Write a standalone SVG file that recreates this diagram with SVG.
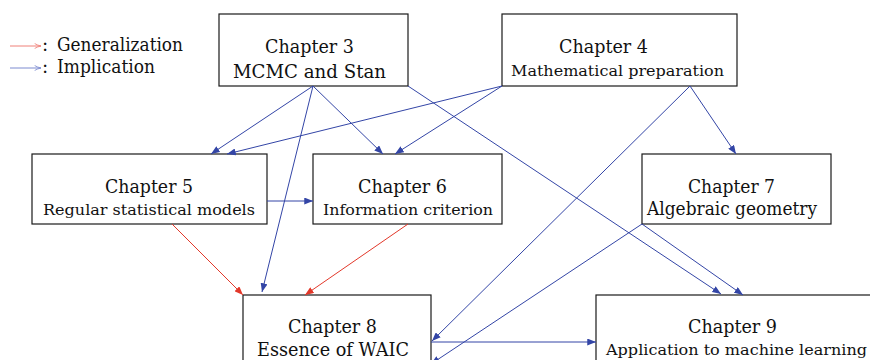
<svg xmlns="http://www.w3.org/2000/svg" width="870" height="360" viewBox="0 0 870 360">
<defs>
<style>
.box{fill:#fff;stroke:#1a1a1a;stroke-width:1.2}
text{font-family:"DejaVu Serif",serif;fill:#111}
.big{font-size:18.5px}
.sm{font-size:15.5px}
.b{stroke:#3345a6;stroke-width:1;fill:none;marker-end:url(#ab)}
.r{stroke:#e2382a;stroke-width:1;fill:none;marker-end:url(#ar)}
</style>
<marker id="ab" viewBox="0 0 10 8" refX="10" refY="4" markerWidth="9" markerHeight="7" markerUnits="userSpaceOnUse" orient="auto"><path d="M0,0 L10,4 L0,8 z" fill="#3345a6"/></marker>
<marker id="ar" viewBox="0 0 10 8" refX="10" refY="4" markerWidth="9" markerHeight="7" markerUnits="userSpaceOnUse" orient="auto"><path d="M0,0 L10,4 L0,8 z" fill="#e2382a"/></marker>
<marker id="lb" viewBox="0 0 10 8" refX="10" refY="4" markerWidth="7" markerHeight="6" markerUnits="userSpaceOnUse" orient="auto"><path d="M1,0.5 Q5,3 10,4 Q5,5 1,7.5" fill="none" stroke="#7d8bd0" stroke-width="1.2"/></marker>
<marker id="lr" viewBox="0 0 10 8" refX="10" refY="4" markerWidth="7" markerHeight="6" markerUnits="userSpaceOnUse" orient="auto"><path d="M1,0.5 Q5,3 10,4 Q5,5 1,7.5" fill="none" stroke="#ef8078" stroke-width="1.2"/></marker>
</defs>

<g id="legend">
<line x1="10" y1="46" x2="41" y2="46" stroke="#ef8078" stroke-width="1" marker-end="url(#lr)"/>
<text class="big" x="42" y="51">:</text>
<text class="big" x="57" y="51" textLength="126" lengthAdjust="spacingAndGlyphs">Generalization</text>
<line x1="10" y1="68" x2="41" y2="68" stroke="#7d8bd0" stroke-width="1" marker-end="url(#lb)"/>
<text class="big" x="42" y="73">:</text>
<text class="big" x="57" y="73" textLength="98" lengthAdjust="spacingAndGlyphs">Implication</text>
</g>

<g id="ch3">
<rect class="box" x="219" y="14" width="189" height="72"/>
<text class="big" x="265" y="53" textLength="89" lengthAdjust="spacingAndGlyphs">Chapter 3</text>
<text class="big" x="233" y="78" textLength="153" lengthAdjust="spacingAndGlyphs">MCMC and Stan</text>
</g>
<g id="ch4">
<rect class="box" x="502" y="14" width="235" height="72"/>
<text class="big" x="559" y="53" textLength="89" lengthAdjust="spacingAndGlyphs">Chapter 4</text>
<text class="sm" x="511" y="76" textLength="213" lengthAdjust="spacingAndGlyphs">Mathematical preparation</text>
</g>
<g id="ch5">
<rect class="box" x="32" y="154" width="235" height="70"/>
<text class="big" x="105" y="193" textLength="88" lengthAdjust="spacingAndGlyphs">Chapter 5</text>
<text class="sm" x="43" y="215" textLength="212" lengthAdjust="spacingAndGlyphs">Regular statistical models</text>
</g>
<g id="ch6">
<rect class="box" x="313" y="154" width="189" height="70"/>
<text class="big" x="358" y="193" textLength="89" lengthAdjust="spacingAndGlyphs">Chapter 6</text>
<text class="sm" x="323" y="215" textLength="170" lengthAdjust="spacingAndGlyphs">Information criterion</text>
</g>
<g id="ch7">
<rect class="box" x="642" y="154" width="189" height="70"/>
<text class="big" x="688" y="193" textLength="87" lengthAdjust="spacingAndGlyphs">Chapter 7</text>
<text class="big" x="647" y="215" textLength="170" lengthAdjust="spacingAndGlyphs">Algebraic geometry</text>
</g>
<g id="ch8">
<rect class="box" x="243" y="295" width="188" height="80"/>
<text class="big" x="288" y="333" textLength="89" lengthAdjust="spacingAndGlyphs">Chapter 8</text>
<text class="big" x="257" y="356" textLength="152" lengthAdjust="spacingAndGlyphs">Essence of WAIC</text>
</g>
<g id="ch9">
<rect class="box" x="596" y="295" width="284" height="80"/>
<text class="big" x="688" y="333" textLength="89" lengthAdjust="spacingAndGlyphs">Chapter 9</text>
<text class="sm" x="606" y="355" textLength="261" lengthAdjust="spacingAndGlyphs">Application to machine learning</text>
</g>

<g id="connectors">
<line class="b" x1="313" y1="86" x2="211" y2="154"/>
<line class="b" x1="313" y1="86" x2="383" y2="154"/>
<line class="b" x1="313" y1="86" x2="262" y2="292"/>
<line class="b" x1="408" y1="86" x2="721" y2="294"/>
<line class="b" x1="502" y1="86" x2="227" y2="154"/>
<line class="b" x1="502" y1="86" x2="395" y2="154"/>
<line class="b" x1="690" y1="86" x2="736" y2="154"/>
<line class="b" x1="690" y1="86" x2="432" y2="341"/>
<line class="b" x1="267" y1="201" x2="313" y2="201"/>
<line class="r" x1="172" y1="224" x2="243" y2="295"/>
<line class="r" x1="408" y1="224" x2="305" y2="295"/>
<line class="b" x1="642" y1="224" x2="743" y2="295"/>
<line class="b" x1="642" y1="224" x2="431" y2="364"/>
<line class="b" x1="431" y1="342" x2="596" y2="342"/>
</g>
</svg>
